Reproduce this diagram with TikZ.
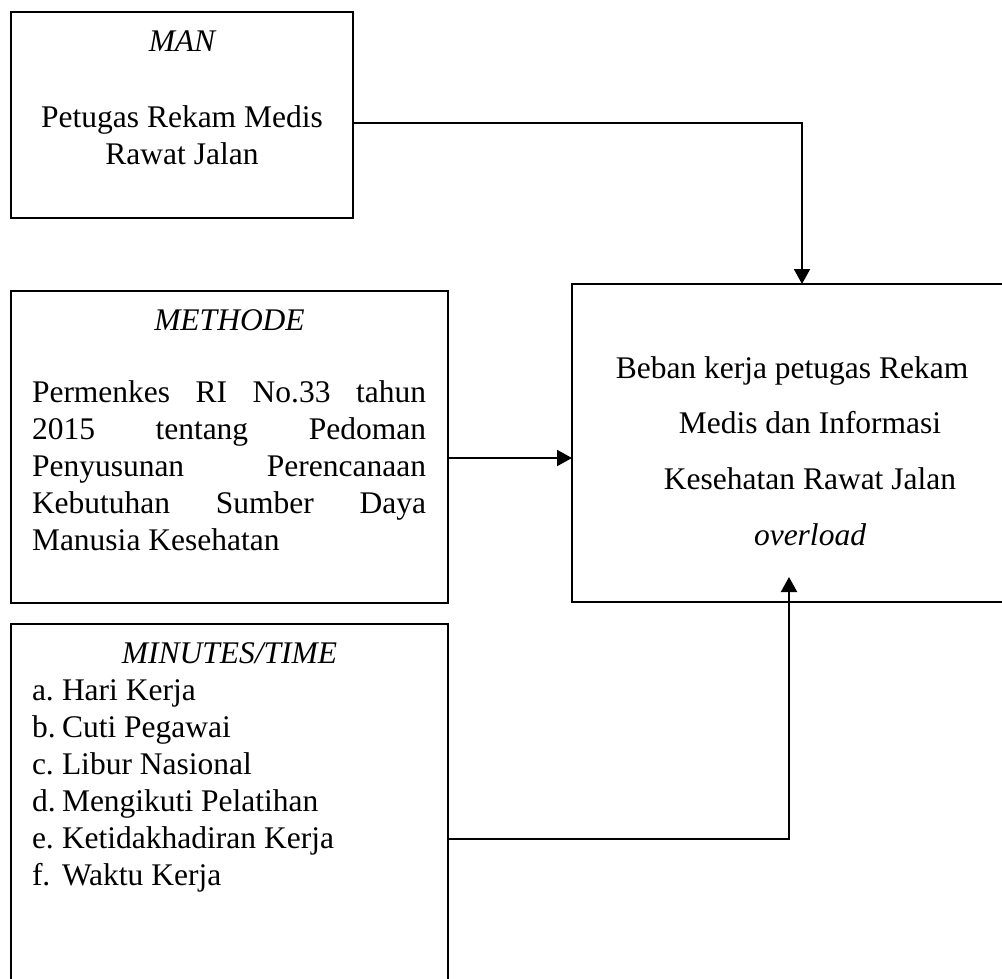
\documentclass[tikz,border=0pt]{standalone}
\usepackage{fontspec}
\setmainfont{Liberation Serif}
\usetikzlibrary{arrows.meta}
\tikzset{
  box/.style={draw, line width=1.6pt, inner sep=0pt, outer sep=0pt, rectangle},
  txt/.style={inner sep=0pt, outer sep=0pt, anchor=base, font=\fontsize{31.5}{37}\selectfont},
  txtl/.style={txt, anchor=base west},
  conn/.style={line width=2pt, -{Triangle[length=15pt,width=16pt]}},
}
\begin{document}
\begin{tikzpicture}[x=1pt,y=-1pt]
\useasboundingbox (0,0) rectangle (1002,979);
\begin{scope}
\clip (0,0) rectangle (1002,979);
% boxes
\node[box, minimum width=342pt, minimum height=206pt] (man) at (182,115) {};
\node[box, minimum width=437pt, minimum height=312pt] (methode) at (229.5,447) {};
\node[box, minimum width=437pt, minimum height=366pt] (mt) at (229.5,807) {};
\node[box, minimum width=438pt, minimum height=318pt] (res) at (791,443) {};
% MAN text
\node[txt] (manT) at (182,52) {\itshape MAN};
\node[txt] (man1) at (182,128) {Petugas Rekam Medis};
\node[txt] (man2) at (182,165) {Rawat Jalan};
% METHODE text
\node[txt] (metT) at (229.5,330) {\itshape METHODE};
\node[txtl] (met1) at (32,402) {\makebox[394pt][s]{Permenkes RI No.33 tahun}};
\node[txtl] (met2) at (32,439) {\makebox[394pt][s]{2015 tentang Pedoman}};
\node[txtl] (met3) at (32,476) {\makebox[394pt][s]{Penyusunan Perencanaan}};
\node[txtl] (met4) at (32,513) {\makebox[394pt][s]{Kebutuhan Sumber Daya}};
\node[txtl] (met5) at (32,550) {Manusia Kesehatan};
% MINUTES/TIME text
\node[txt] (mtT) at (229.5,663) {\itshape MINUTES/TIME};
\node[txtl] (la) at (32,700) {a.};
\node[txtl] (lb) at (32,737) {b.};
\node[txtl] (lc) at (32,774) {c.};
\node[txtl] (ld) at (32,811) {d.};
\node[txtl] (le) at (32,848) {e.};
\node[txtl] (lf) at (32,885) {f.};
\node[txtl] (ia) at (62,700) {Hari Kerja};
\node[txtl] (ib) at (62,737) {Cuti Pegawai};
\node[txtl] (ic) at (62,774) {Libur Nasional};
\node[txtl] (id) at (62,811) {Mengikuti Pelatihan};
\node[txtl] (ie) at (62,848) {Ketidakhadiran Kerja};
\node[txtl] (if) at (62,885) {Waktu Kerja};
% Result text
\node[txt] (r1) at (792,378) {Beban kerja petugas Rekam};
\node[txt] (r2) at (810,433) {Medis dan Informasi};
\node[txt] (r3) at (810,489) {Kesehatan Rawat Jalan};
\node[txt] (r4) at (810,545) {\itshape overload};
% connectors
\draw[conn] ([yshift=-8pt]man.east) -| ([xshift=11pt]res.north);
\draw[conn] ([yshift=-11pt]methode.east) -- ([yshift=-11pt]methode.east -| res.west);
\draw[conn] ([yshift=-32pt]mt.east) -| ([xshift=-2pt,yshift=25pt]res.south);
\end{scope}
\end{tikzpicture}
\end{document}
